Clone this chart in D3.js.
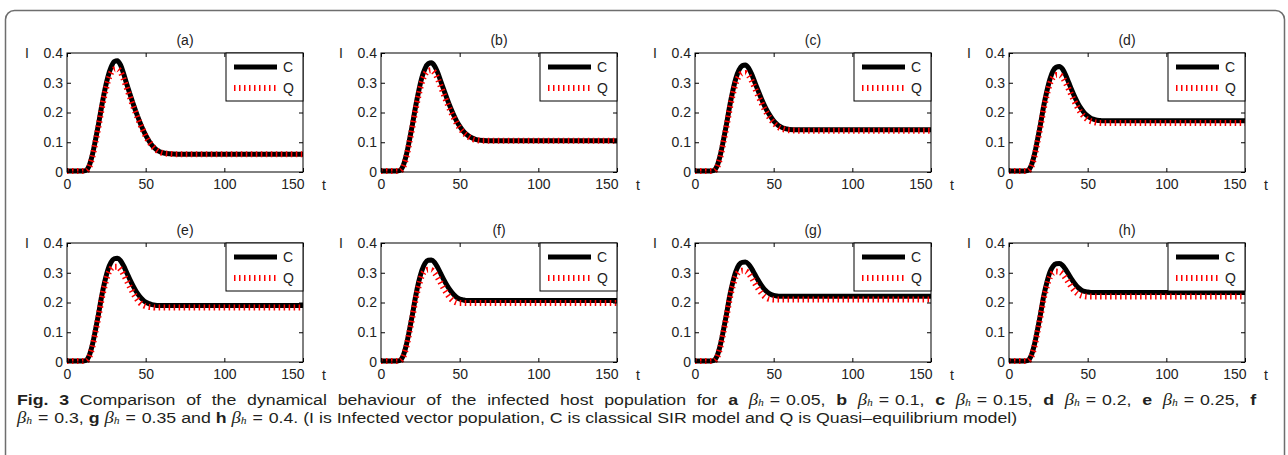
<!DOCTYPE html>
<html>
<head>
<meta charset="utf-8">
<script src="https://cdn.jsdelivr.net/npm/d3@7"></script>
<style>
  body { margin: 0; background: #fff; }
  svg text { font-family: "Liberation Sans", Arial, sans-serif; }
</style>
</head>
<body>
<div id="chart"></div>
<script>
// time samples shared by every panel
const tValues = [0,5,10,12,14,16,18,20,22,24,26,28,30,32,34,36,38,40,42,44,46,48,50,52,54,56,58,60,65,70,80,100,120,150];

// I(t), C = classical SIR, Q = quasi-equilibrium
const cA = [0.003,0.003,0.003,0.005,0.02,0.055,0.105,0.16,0.22,0.275,0.32,0.352,0.371,0.374,0.36,0.33,0.295,0.262,0.23,0.2,0.172,0.146,0.124,0.105,0.09,0.079,0.071,0.066,0.061,0.06,0.06,0.06,0.06,0.06];
const qA = [0.003,0.003,0.003,0.004,0.015,0.048,0.098,0.152,0.21,0.262,0.305,0.333,0.345,0.346,0.336,0.312,0.282,0.252,0.222,0.194,0.167,0.143,0.121,0.103,0.089,0.078,0.07,0.065,0.061,0.06,0.06,0.06,0.06,0.06];
const cB = [0.003,0.003,0.003,0.005,0.02,0.055,0.105,0.16,0.22,0.273,0.318,0.348,0.364,0.367,0.357,0.335,0.305,0.275,0.246,0.219,0.194,0.172,0.154,0.139,0.128,0.12,0.114,0.11,0.106,0.105,0.105,0.105,0.105,0.105];
const qB = [0.003,0.003,0.003,0.004,0.015,0.048,0.098,0.152,0.21,0.26,0.302,0.328,0.34,0.342,0.334,0.314,0.287,0.259,0.232,0.207,0.185,0.165,0.148,0.135,0.125,0.117,0.111,0.108,0.105,0.105,0.105,0.105,0.105,0.105];
const cC = [0.003,0.003,0.003,0.005,0.02,0.055,0.105,0.16,0.22,0.272,0.315,0.343,0.357,0.36,0.35,0.329,0.302,0.275,0.249,0.225,0.204,0.187,0.172,0.161,0.153,0.148,0.145,0.143,0.142,0.142,0.142,0.142,0.142,0.142];
const qC = [0.003,0.003,0.003,0.004,0.015,0.048,0.098,0.152,0.21,0.26,0.3,0.322,0.332,0.333,0.325,0.307,0.283,0.258,0.235,0.213,0.194,0.178,0.165,0.155,0.148,0.144,0.141,0.14,0.139,0.139,0.139,0.139,0.139,0.139];
const cD = [0.003,0.003,0.003,0.005,0.02,0.055,0.105,0.16,0.22,0.27,0.312,0.34,0.352,0.355,0.346,0.326,0.3,0.274,0.25,0.229,0.212,0.198,0.188,0.181,0.177,0.174,0.173,0.172,0.172,0.172,0.172,0.172,0.172,0.172];
const qD = [0.003,0.003,0.003,0.004,0.015,0.048,0.098,0.152,0.21,0.258,0.297,0.318,0.326,0.326,0.318,0.3,0.278,0.255,0.233,0.213,0.197,0.185,0.176,0.171,0.168,0.166,0.165,0.165,0.165,0.165,0.165,0.165,0.165,0.165];
const cE = [0.003,0.003,0.003,0.005,0.02,0.055,0.105,0.16,0.22,0.27,0.31,0.335,0.347,0.349,0.341,0.323,0.3,0.277,0.256,0.237,0.222,0.21,0.201,0.196,0.193,0.191,0.19,0.19,0.19,0.19,0.19,0.19,0.19,0.19];
const qE = [0.003,0.003,0.003,0.004,0.015,0.048,0.098,0.152,0.21,0.257,0.294,0.313,0.32,0.32,0.311,0.294,0.273,0.252,0.232,0.215,0.201,0.192,0.187,0.185,0.184,0.183,0.183,0.183,0.183,0.183,0.183,0.183,0.183,0.183];
const cF = [0.003,0.003,0.003,0.005,0.02,0.055,0.105,0.16,0.22,0.27,0.308,0.332,0.342,0.343,0.335,0.318,0.297,0.276,0.257,0.241,0.228,0.218,0.212,0.209,0.207,0.207,0.207,0.207,0.207,0.207,0.207,0.207,0.207,0.207];
const qF = [0.003,0.003,0.003,0.004,0.015,0.048,0.098,0.152,0.21,0.255,0.29,0.306,0.31,0.309,0.3,0.284,0.265,0.246,0.229,0.215,0.205,0.2,0.198,0.198,0.198,0.198,0.198,0.198,0.198,0.198,0.198,0.198,0.198,0.198];
const cG = [0.003,0.003,0.003,0.005,0.02,0.055,0.105,0.16,0.22,0.268,0.305,0.327,0.335,0.336,0.329,0.314,0.295,0.276,0.259,0.245,0.235,0.228,0.224,0.222,0.221,0.221,0.221,0.221,0.221,0.221,0.221,0.221,0.221,0.221];
const qG = [0.003,0.003,0.003,0.004,0.015,0.048,0.098,0.152,0.21,0.255,0.288,0.303,0.307,0.306,0.298,0.283,0.265,0.248,0.233,0.221,0.214,0.211,0.21,0.21,0.21,0.21,0.21,0.21,0.21,0.21,0.21,0.21,0.21,0.21];
const cH = [0.003,0.003,0.003,0.005,0.02,0.055,0.105,0.16,0.22,0.266,0.302,0.322,0.33,0.331,0.325,0.311,0.294,0.277,0.262,0.25,0.242,0.237,0.235,0.234,0.234,0.234,0.234,0.234,0.234,0.234,0.234,0.234,0.234,0.234];
const qH = [0.003,0.003,0.003,0.004,0.015,0.048,0.098,0.152,0.21,0.253,0.285,0.3,0.304,0.303,0.296,0.282,0.266,0.25,0.237,0.228,0.223,0.221,0.22,0.22,0.22,0.22,0.22,0.22,0.22,0.22,0.22,0.22,0.22,0.22];

const panelTitles = ['(a)','(b)','(c)','(d)','(e)','(f)','(g)','(h)'];
const classicalSeries = [cA,cB,cC,cD,cE,cF,cG,cH];
const quasiSeries = [qA,qB,qC,qD,qE,qF,qG,qH];
const xTicks = [0,50,100,150];
const yTicks = [0,0.1,0.2,0.3,0.4];
const legendLabels = ['C','Q'];

const width = 1288, height = 455;
const plotW = 236, plotH = 119;
const fs = 14;

const svg = d3.select('#chart').append('svg')
  .attr('width', width).attr('height', height);

// outer figure frame
svg.append('rect')
  .attr('x', 5.5).attr('y', 10.5)
  .attr('width', 1279).attr('height', 480)
  .attr('rx', 9)
  .attr('fill', 'none').attr('stroke', '#6e6e6e').attr('stroke-width', 1.5);

const x = d3.scaleLinear().domain([0, 150]).range([0, plotW]);
const y = d3.scaleLinear().domain([0, 0.4]).range([plotH, 0]);

const line = d3.line()
  .x(d => x(d[0]))
  .y(d => y(d[1]))
  .curve(d3.curveMonotoneX);

panelTitles.forEach((title, i) => {
  const col = i % 4, row = Math.floor(i / 4);
  const g = svg.append('g')
    .attr('transform', `translate(${67 + col * 314},${53 + row * 190})`);

  const cPts = tValues.map((t, k) => [t, classicalSeries[i][k]]);
  const qPts = tValues.map((t, k) => [t, quasiSeries[i][k]]);

  g.append('path').datum(cPts)
    .attr('d', line)
    .attr('fill', 'none').attr('stroke', '#000').attr('stroke-width', 5)
    .attr('stroke-linejoin', 'round');
  g.append('path').datum(qPts)
    .attr('d', line)
    .attr('fill', 'none').attr('stroke', '#ff0000').attr('stroke-width', 6)
    .attr('stroke-dasharray', '1.5,3.5');

  const axisStyle = sel => {
    sel.select('.domain').remove();
    sel.selectAll('text').attr('font-size', fs).attr('fill', '#222')
      .attr('font-family', '"Liberation Sans", Arial, sans-serif');
    sel.selectAll('line').attr('stroke', '#000');
  };

  g.append('g').attr('transform', `translate(0,${plotH})`)
    .call(d3.axisBottom(x).tickValues(xTicks).tickSizeInner(-4).tickSizeOuter(0).tickPadding(7))
    .call(axisStyle)
    .selectAll('.tick text')
    .attr('text-anchor', d => d === 150 ? 'end' : 'middle')
    .attr('x', d => d === 150 ? 1 : 0);
  g.append('g')
    .call(d3.axisLeft(y).tickValues(yTicks).tickFormat(d => d === 0 ? '0' : d3.format('.1f')(d))
      .tickSizeInner(-4).tickSizeOuter(0).tickPadding(4))
    .call(axisStyle);
  g.append('g')
    .call(d3.axisTop(x).tickValues(xTicks).tickFormat('').tickSizeInner(-4).tickSizeOuter(0))
    .call(axisStyle);
  g.append('g').attr('transform', `translate(${plotW},0)`)
    .call(d3.axisRight(y).tickValues(yTicks).tickFormat('').tickSizeInner(-4).tickSizeOuter(0))
    .call(axisStyle);

  g.append('rect')
    .attr('width', plotW).attr('height', plotH)
    .attr('fill', 'none').attr('stroke', '#000').attr('stroke-width', 1);

  // legend box in the upper right corner
  const lg = g.append('g').attr('transform', `translate(${plotW - 77},0)`);
  lg.append('rect').attr('width', 77).attr('height', 48)
    .attr('fill', '#fff').attr('stroke', '#000').attr('stroke-width', 1);
  legendLabels.forEach((lab, k) => {
    const ly = 14 + k * 21;
    lg.append('line').attr('x1', 8).attr('x2', 51).attr('y1', ly).attr('y2', ly)
      .attr('stroke', k === 0 ? '#000' : '#ff0000')
      .attr('stroke-width', k === 0 ? 5 : 6)
      .attr('stroke-dasharray', k === 0 ? null : '1.5,3.5');
    lg.append('text').attr('x', 57).attr('y', ly + 5)
      .attr('font-size', fs).attr('fill', '#222').text(lab);
  });

  g.append('text').attr('x', plotW / 2).attr('y', -8)
    .attr('text-anchor', 'middle').attr('font-size', fs).attr('fill', '#222').text(title);
  g.append('text').attr('x', -42).attr('y', 5)
    .attr('font-size', fs).attr('fill', '#222').text('I');
  g.append('text').attr('x', plotW + 19).attr('y', plotH + 18)
    .attr('font-size', fs).attr('fill', '#222').text('t');
});

// caption: 'B' = beta_h, '=' = spaced equals sign
const captionLines = [
  [['Fig. 3', 'b'], [' Comparison of the dynamical behaviour of the infected host population for '], ['a', 'b'], [' '], ['B'], ['='], ['0.05, '], ['b', 'b'], [' '], ['B'], ['='], ['0.1, '],
   ['c', 'b'], [' '], ['B'], ['='], ['0.15, '], ['d', 'b'], [' '], ['B'], ['='], ['0.2, '], ['e', 'b'], [' '], ['B'], ['='], ['0.25, '], ['f', 'b']],
  [['B'], ['='], ['0.3, '], ['g', 'b'], [' '], ['B'], ['='], ['0.35 and '], ['h', 'b'], [' '], ['B'], ['='], ['0.4. (I is Infected vector population, C is classical SIR model and Q is Quasi\u2013equilibrium model)']]
];
const gap = 5;
const capG = svg.append('g');
const capTexts = [];
captionLines.forEach((segs, li) => {
  const txt = capG.append('text').attr('x', 0).attr('y', 405 + li * 17.7)
    .attr('font-size', 15.2).attr('fill', '#231f20')
    .style('font-family', '"Liberation Sans", Arial, sans-serif');
  capTexts.push(txt);
  let afterEq = false;
  segs.forEach(([s, kind]) => {
    if (s === 'B') {
      txt.append('tspan').attr('font-style', 'italic').attr('font-size', 16)
        .style('font-family', '"Liberation Serif", serif').text('\u03b2');
      txt.append('tspan').attr('font-style', 'italic').attr('font-size', 10).attr('dy', 1.5)
        .style('font-family', '"Liberation Serif", serif').text('h');
    } else if (s === '=') {
      txt.append('tspan').attr('dy', -1.5).attr('dx', gap).text('=');
      afterEq = true;
    } else {
      const ts = txt.append('tspan').attr('font-weight', kind === 'b' ? 'bold' : null).text(s);
      if (afterEq) ts.attr('dx', gap);
      afterEq = false;
    }
  });
});

// line 2 is set ragged (ends near x = 1017), line 1 is justified to x = 1256
const n1 = capTexts[0].node(), n2 = capTexts[1].node();
const end2 = n2.getEndPositionOfChar(n2.getNumberOfChars() - 1).x;
const sx = 1000 / end2;
const end1 = n1.getEndPositionOfChar(n1.getNumberOfChars() - 1).x;
const nSpaces = (n1.textContent.match(/ /g) || []).length;
capTexts[0].style('word-spacing', `${(1239 / sx - end1) / nSpaces}px`);
capG.attr('transform', `translate(17,0) scale(${sx},1)`);
</script>
</body>
</html>
